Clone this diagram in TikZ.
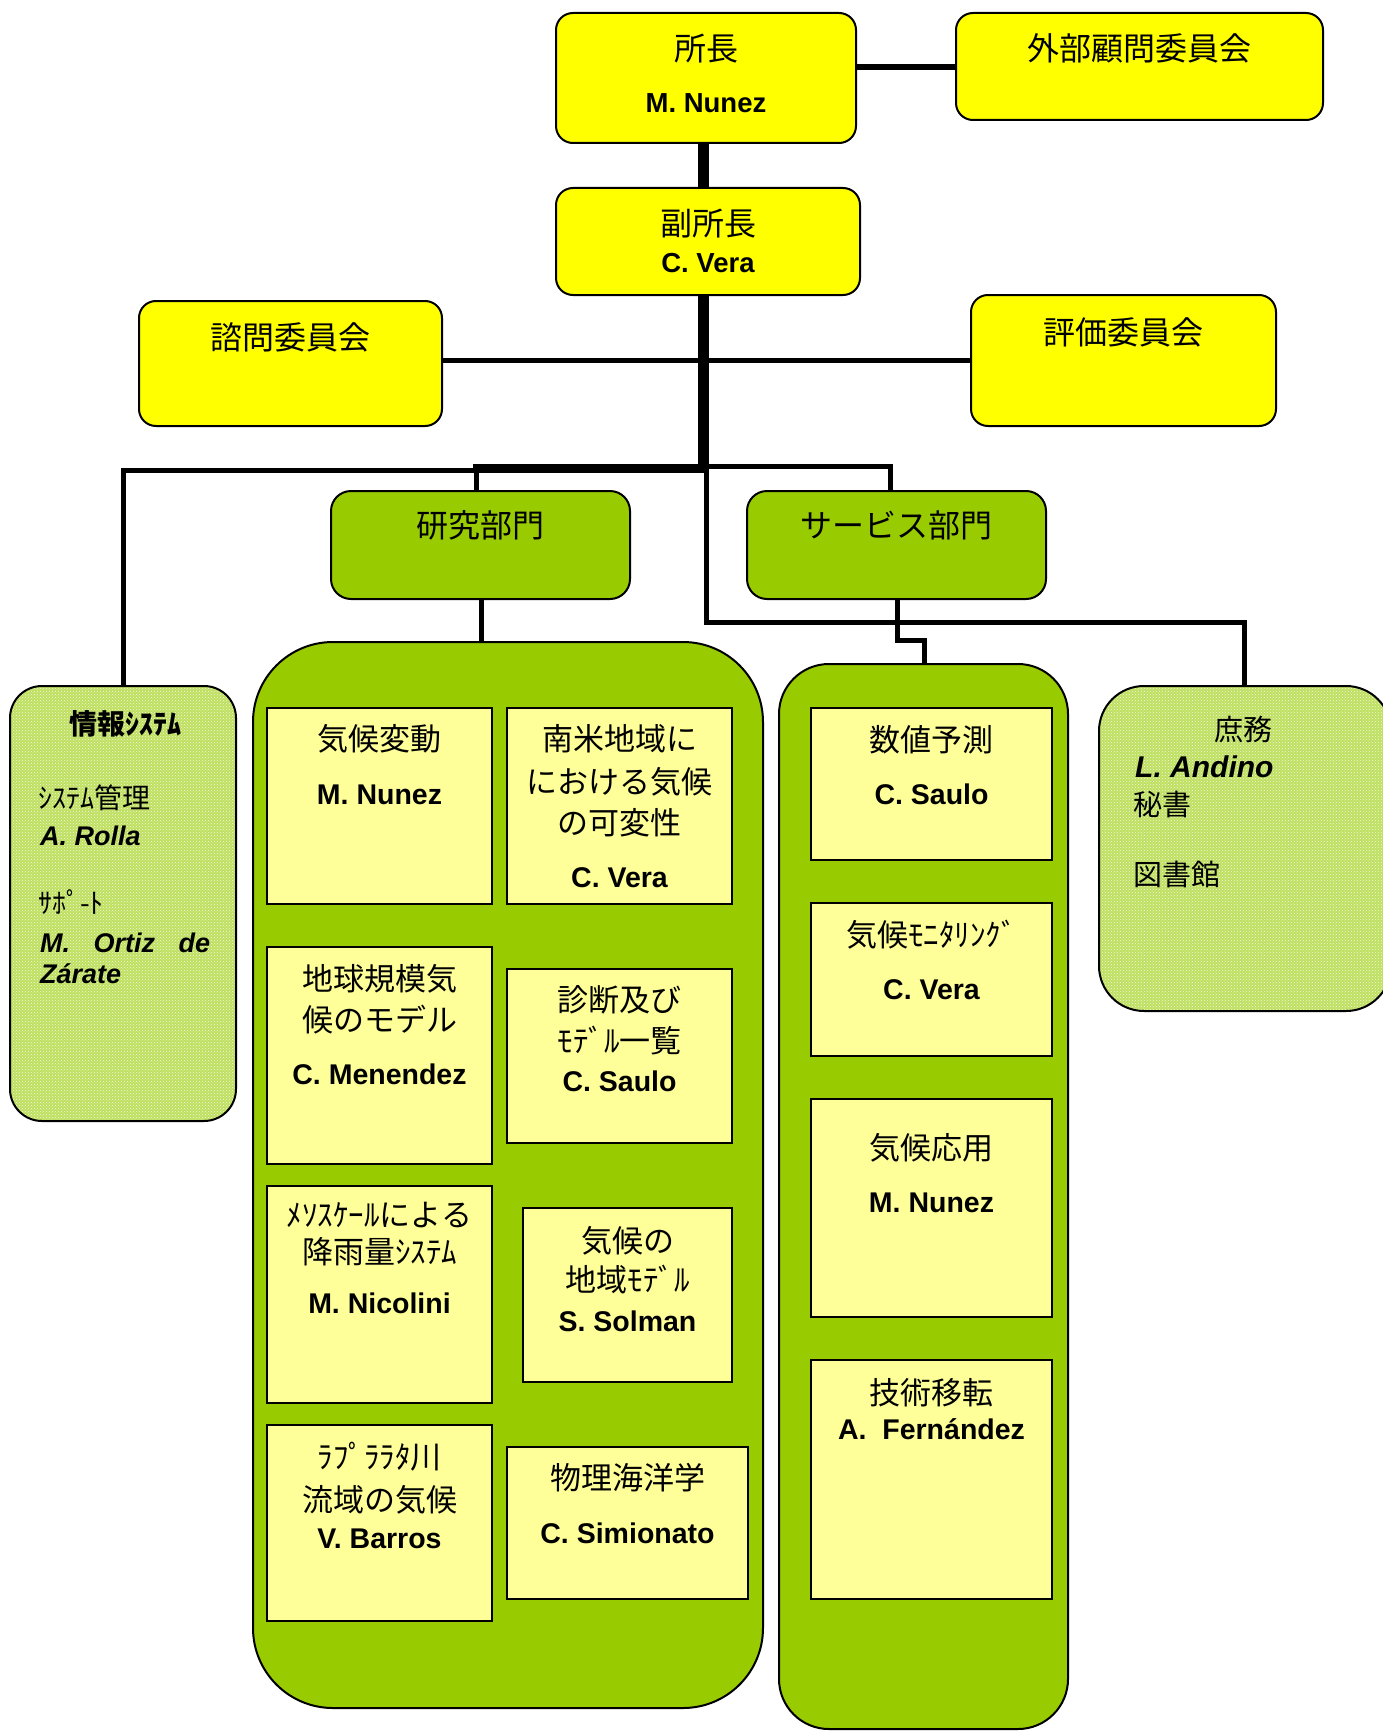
\documentclass[tikz,border=0pt]{standalone}
\usepackage{fontspec}
\setmainfont{Liberation Sans}
\newfontfamily\jpfont{Noto Sans CJK JP}
\usetikzlibrary{patterns}
\definecolor{topyellow}{HTML}{FFFF00}
\definecolor{deptgreen}{HTML}{99CC00}
\definecolor{unityellow}{HTML}{FFFF99}
\definecolor{patgreen}{HTML}{A8D42A}
\pgfdeclarelayer{bg}
\pgfsetlayers{bg,main}
\tikzset{
  boxbase/.style={draw, line width=2pt, inner sep=0pt, outer sep=0pt, anchor=north west},
  topbox/.style={boxbase, fill=topyellow, rounded corners=17pt},
  deptbox/.style={boxbase, fill=deptgreen, rounded corners=20pt},
  grpbox/.style={boxbase, fill=deptgreen},
  patbox/.style={boxbase, preaction={fill=patgreen!75!white}, pattern=crosshatch dots, pattern color=white!85!patgreen},
  unitbox/.style={boxbase, fill=unityellow},
  jt/.style={font=\jpfont\fontsize{32}{32}\selectfont, inner sep=0pt, anchor=base},
  ji/.style={font=\jpfont\fontsize{31}{31}\selectfont, inner sep=0pt, anchor=base},
  js/.style={font=\jpfont\fontsize{28}{28}\selectfont, inner sep=0pt, anchor=base west},
  nt/.style={font=\bfseries\fontsize{27.5}{27.5}\selectfont, inner sep=0pt, anchor=base},
  ni/.style={font=\bfseries\fontsize{28.5}{28.5}\selectfont, inner sep=0pt, anchor=base},
  nit/.style={font=\bfseries\itshape\fontsize{27}{27}\selectfont, inner sep=0pt, anchor=base west},
  conn/.style={line width=5pt},
  trunkline/.style={line width=11pt},
  barline/.style={line width=9pt},
  extline/.style={line width=6pt},
}
\begin{document}
\begin{tikzpicture}[x=1pt,y=-1pt]
\useasboundingbox (0,0) rectangle (1383,1731);

% ---------- top level boxes ----------
\node[topbox, minimum width=300pt, minimum height=130pt] (chief) at (556,13) {};
\node[topbox, minimum width=367pt, minimum height=107pt] (ext) at (956,13) {};
\node[topbox, minimum width=304pt, minimum height=107pt] (vice) at (556,188) {};
\node[topbox, minimum width=303pt, minimum height=125pt] (adv) at (139,301) {};
\node[topbox, minimum width=305pt, minimum height=131pt] (eval) at (971,295) {};
\node[deptbox, minimum width=299pt, minimum height=108pt] (res) at (331,491) {};
\node[deptbox, minimum width=299pt, minimum height=108pt] (svc) at (747,491) {};

\node[jt] (chiefT) at ([yshift=-48pt]chief.north) {所長};
\node[nt] (chiefN) at ([yshift=-100pt]chief.north) {M. Nunez};
\node[jt] (extT) at ([yshift=-48pt]ext.north) {外部顧問委員会};
\node[jt] (viceT) at ([yshift=-47pt]vice.north) {副所長};
\node[nt] (viceN) at ([yshift=-84pt]vice.north) {C. Vera};
\node[jt] (advT) at ([yshift=-48pt]adv.north) {諮問委員会};
\node[jt] (evalT) at ([yshift=-49pt]eval.north) {評価委員会};
\node[jt] (resT) at ([yshift=-46pt]res.north) {研究部門};
\node[jt] (svcT) at ([yshift=-46pt]svc.north) {サービス部門};

% ---------- groups ----------
\node[patbox, rounded corners=32pt, minimum width=226pt, minimum height=435pt] (info) at (10,686) {};
\node[grpbox, rounded corners=80pt, minimum width=510pt, minimum height=1066pt] (resgrp) at (253,642) {};
\node[grpbox, rounded corners=50pt, minimum width=289pt, minimum height=1065pt] (svcgrp) at (779,664) {};
\node[patbox, rounded corners=45pt, minimum width=292pt, minimum height=325pt] (shomu) at (1099,686) {};

% info system texts
\node[font=\jpfont\bfseries\fontsize{28}{28}\selectfont, inner sep=0pt, anchor=base] (infoT) at ([xshift=2pt,yshift=-48pt]info.north) {情報ｼｽﾃﾑ};
\node[js] (infoA) at ([xshift=28pt,yshift=-122pt]info.north west) {ｼｽﾃﾑ管理};
\node[nit] (infoB) at ([xshift=30pt,yshift=-159pt]info.north west) {A. Rolla};
\node[js] (infoC) at ([xshift=28pt,yshift=-227pt]info.north west) {ｻﾎﾟ-ﾄ};
\node[nit] (infoD) at ([xshift=30pt,yshift=-266pt]info.north west) {\hbox to 170pt{M.\hfill Ortiz\hfill de}};
\node[nit] (infoE) at ([xshift=30pt,yshift=-297pt]info.north west) {Zárate};

% general affairs texts
\node[font=\jpfont\fontsize{29}{29}\selectfont, inner sep=0pt, anchor=base] (shT) at ([xshift=-2pt,yshift=-54pt]shomu.north) {庶務};
\node[font=\bfseries\itshape\fontsize{30}{30}\selectfont, inner sep=0pt, anchor=base west] (shA) at ([xshift=36pt,yshift=-91pt]shomu.north west) {L. Andino};
\node[font=\jpfont\fontsize{29}{29}\selectfont, inner sep=0pt, anchor=base west] (shB) at ([xshift=34pt,yshift=-129pt]shomu.north west) {秘書};
\node[font=\jpfont\fontsize{29}{29}\selectfont, inner sep=0pt, anchor=base west] (shC) at ([xshift=34pt,yshift=-199pt]shomu.north west) {図書館};

% ---------- research units ----------
\node[unitbox, minimum width=225pt, minimum height=196pt] (r1) at (267,708) {};
\node[unitbox, minimum width=225pt, minimum height=196pt] (r2) at (507,708) {};
\node[unitbox, minimum width=225pt, minimum height=217pt] (r3) at (267,947) {};
\node[unitbox, minimum width=225pt, minimum height=174pt] (r4) at (507,969) {};
\node[unitbox, minimum width=225pt, minimum height=217pt] (r5) at (267,1186) {};
\node[unitbox, minimum width=209pt, minimum height=174pt] (r6) at (523,1208) {};
\node[unitbox, minimum width=225pt, minimum height=196pt] (r7) at (267,1425) {};
\node[unitbox, minimum width=241pt, minimum height=152pt] (r8) at (507,1447) {};

\node[ji] (r1a) at ([yshift=-42pt]r1.north) {気候変動};
\node[ni] (r1n) at ([yshift=-96pt]r1.north) {M. Nunez};

\node[ji] (r2a) at ([yshift=-42pt]r2.north) {南米地域に};
\node[ji] (r2b) at ([yshift=-85pt]r2.north) {における気候};
\node[ji] (r2c) at ([yshift=-126pt]r2.north) {の可変性};
\node[ni] (r2n) at ([yshift=-179pt]r2.north) {C. Vera};

\node[ji] (r3a) at ([yshift=-43pt]r3.north) {地球規模気};
\node[ji] (r3b) at ([yshift=-84pt]r3.north) {候のモデル};
\node[ni] (r3n) at ([yshift=-137pt]r3.north) {C. Menendez};

\node[ji] (r4a) at ([yshift=-42pt]r4.north) {診断及び};
\node[ji] (r4b) at ([yshift=-83pt]r4.north) {ﾓﾃﾞﾙ一覧};
\node[ni] (r4n) at ([yshift=-122pt]r4.north) {C. Saulo};

\node[ji] (r5a) at ([yshift=-40pt]r5.north) {ﾒｿｽｹｰﾙによる};
\node[ji] (r5b) at ([yshift=-77pt]r5.north) {降雨量ｼｽﾃﾑ};
\node[ni] (r5n) at ([yshift=-127pt]r5.north) {M. Nicolini};

\node[ji] (r6a) at ([yshift=-44pt]r6.north) {気候の};
\node[ji] (r6b) at ([yshift=-83pt]r6.north) {地域ﾓﾃﾞﾙ};
\node[ni] (r6n) at ([yshift=-123pt]r6.north) {S. Solman};

\node[ji] (r7a) at ([yshift=-43pt]r7.north) {ﾗﾌﾟﾗﾗﾀ川};
\node[ji] (r7b) at ([yshift=-86pt]r7.north) {流域の気候};
\node[ni] (r7n) at ([yshift=-123pt]r7.north) {V. Barros};

\node[ji] (r8a) at ([yshift=-42pt]r8.north) {物理海洋学};
\node[ni] (r8n) at ([yshift=-96pt]r8.north) {C. Simionato};

% ---------- service units ----------
\node[unitbox, minimum width=241pt, minimum height=152pt] (s1) at (811,708) {};
\node[unitbox, minimum width=241pt, minimum height=153pt] (s2) at (811,903) {};
\node[unitbox, minimum width=241pt, minimum height=218pt] (s3) at (811,1099) {};
\node[unitbox, minimum width=241pt, minimum height=239pt] (s4) at (811,1360) {};

\node[ji] (s1a) at ([yshift=-43pt]s1.north) {数値予測};
\node[ni] (s1n) at ([yshift=-96pt]s1.north) {C. Saulo};
\node[ji] (s2a) at ([yshift=-43pt]s2.north) {気候ﾓﾆﾀﾘﾝｸﾞ};
\node[ni] (s2n) at ([yshift=-96pt]s2.north) {C. Vera};
\node[ji] (s3a) at ([yshift=-60pt]s3.north) {気候応用};
\node[ni] (s3n) at ([yshift=-113pt]s3.north) {M. Nunez};
\node[ji] (s4a) at ([yshift=-44pt]s4.north) {技術移転};
\node[ni] (s4n) at ([yshift=-79pt]s4.north) {A.\ \ Fernández};

% ---------- connectors ----------
\begin{pgfonlayer}{bg}
\coordinate (tx) at (703,0);
\coordinate (jA) at (703,473);
\coordinate (jL) at (473,468.5);
\coordinate (lx) at (123,470.5);
\coordinate (rx) at (476,470);
\coordinate (sbr) at (890,466);
\coordinate (ty) at (706,466);
\coordinate (shx) at (1244,622.5);
\coordinate (hc) at (0,360);
\coordinate (he) at (0,67.5);
\coordinate (rgx) at (481,0);
\coordinate (sj1) at (897,640);
\coordinate (sj2) at (924,640);

\draw[trunkline] (chief.south -| tx) -- (vice.north -| tx);
\draw[extline] (chief.east |- he) -- (ext.west |- he);
\draw[trunkline] (vice.south -| tx) -- (jA);
\draw[conn] (adv.east |- hc) -- (eval.west |- hc);
\draw[barline] (jL) -- ([xshift=5pt]jL -| tx);
\draw[conn] (info.north -| lx) -- (lx) -- (jL |- lx);
\draw[conn] (rx) -- (res.north -| rx);
\draw[conn] (tx |- sbr) -- (sbr) -- (svc.north -| sbr);
\draw[conn] (ty) -- (ty |- shx) -- (shx) -- (shomu.north -| shx);
\draw[conn] (res.south -| rgx) -- (resgrp.north -| rgx);
\draw[conn] (svc.south -| sj1) -- (sj1) -- (sj2) -- (svcgrp.north -| sj2);
\end{pgfonlayer}
\end{tikzpicture}
\end{document}
